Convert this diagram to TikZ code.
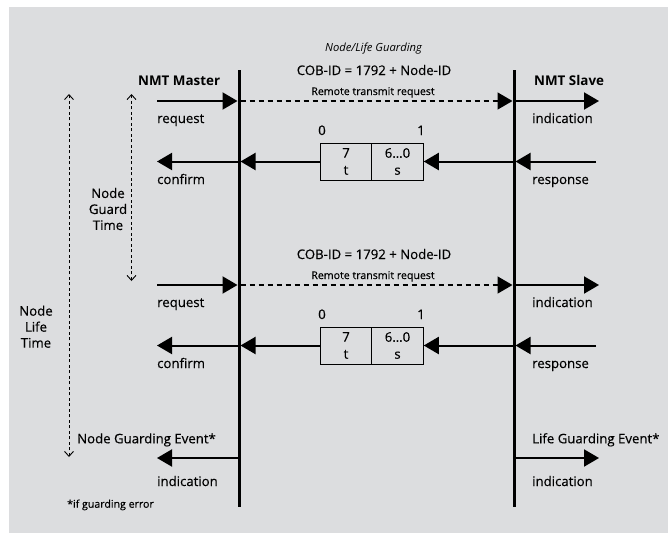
\documentclass[tikz,border=0pt]{standalone}
\usepackage{fontspec}
\setmainfont{Open Sans}[UprightFeatures={FakeBold=0.35}]
\usetikzlibrary{arrows.meta}
\definecolor{panel}{RGB}{220,221,223}
\begin{document}
\begin{tikzpicture}[x=1pt,y=-1pt,
  lifeline/.style={line width=3pt},
  msg/.style={line width=2pt,-{Triangle[length=15pt,width=17pt]}},
  rtr/.style={line width=1.5pt,dash pattern=on 5pt off 4pt,-{Triangle[length=15pt,width=17pt]}},
  span/.style={line width=0.9pt,dash pattern=on 3pt off 2.5pt,
    {Straight Barb[length=5pt,width=9pt]}-{Straight Barb[length=5pt,width=9pt]}},
  lbl/.style={font=\fontsize{13.2}{16}\selectfont,inner sep=0pt,anchor=base west},
  ctr/.style={font=\fontsize{13.2}{16}\selectfont,inner sep=0pt,anchor=base},
  small/.style={font=\fontsize{10.6}{12}\selectfont,inner sep=0pt,anchor=base},
  stack/.style={font=\fontsize{13.2}{16}\selectfont,inner sep=0pt,align=center},
  field/.style={draw,line width=1pt,minimum width=51.5pt,minimum height=37pt,
    inner sep=0pt,align=center,font=\fontsize{13.2}{17}\selectfont}
]
% canvas
\useasboundingbox (0,0) rectangle (668,533);
\fill[panel] (9,7) rectangle (668,533);

% headings
\node[small,font=\fontsize{11.2}{12}\itshape\selectfont] (title) at (373.5,51.7) {Node/Life Guarding};
\node[lbl,font=\fontsize{13.4}{16}\bfseries\selectfont] (master) at (138,85) {NMT Master};
\node[lbl,font=\fontsize{13.4}{16}\bfseries\selectfont] (slave) at (534,85) {NMT Slave};

% lifelines
\coordinate (mtop) at (239,70);
\coordinate (mbot) at (239,507);
\coordinate (stop) at (514,70);
\coordinate (sbot) at (514,507);
\draw[lifeline] (mtop) -- (mbot);
\draw[lifeline] (stop) -- (sbot);

% two guarding cycles
\foreach \k/\d in {1/0,2/184}{
  % remote transmit request
  \node[ctr] (cob\k) at (374,75+\d) {COB-ID = 1792 + Node-ID};
  \node[small] (rtrtext\k) at (373,95+\d) {Remote transmit request};
  \coordinate (reqS\k) at (157,101+\d);
  \coordinate (mIn\k) at (237.5,101+\d);
  \coordinate (mOut\k) at (240.5,101+\d);
  \coordinate (sIn\k) at (512.5,101+\d);
  \coordinate (sOut\k) at (515.5,101+\d);
  \coordinate (indE\k) at (599,101+\d);
  \draw[msg] (reqS\k) -- (mIn\k);
  \draw[rtr] (mOut\k) -- (sIn\k);
  \draw[msg] (sOut\k) -- (indE\k);
  \node[lbl] (req\k) at (157,123+\d) {request};
  \node[lbl] (ind\k) at (532,123+\d) {indication};
  % response frame
  \node[field] (ft\k) at (346,161.5+\d) {7\\t};
  \node[field] (fs\k) at (397.5,161.5+\d) {6…0\\s};
  \node[ctr] (b0\k) at (322,135+\d) {0};
  \node[ctr] (b1\k) at (421,135+\d) {1};
  \coordinate (rspS\k) at (596,161.5+\d);
  \coordinate (sR\k) at (515.5,161.5+\d);
  \coordinate (sL\k) at (512.5,161.5+\d);
  \coordinate (mR\k) at (240.5,161.5+\d);
  \coordinate (mL\k) at (237.5,161.5+\d);
  \coordinate (cfE\k) at (157,161.5+\d);
  \draw[msg] (rspS\k) -- (sR\k);
  \draw[msg] (sL\k) -- (fs\k.east);
  \draw[msg] (ft\k.west) -- (mR\k);
  \draw[msg] (mL\k) -- (cfE\k);
  \node[lbl] (cf\k) at (157,184+\d) {confirm};
  \node[lbl] (rsp\k) at (532,184+\d) {response};
}

% guarding events
\node[lbl] (nge) at (77,443.3) {Node Guarding Event*};
\node[lbl] (lge) at (532,443.3) {Life Guarding Event*};
\coordinate (mL3) at (237.5,458);
\coordinate (ngE) at (157,458);
\coordinate (sR3) at (515.5,458);
\coordinate (lgE) at (599,458);
\draw[msg] (mL3) -- (ngE);
\draw[msg] (sR3) -- (lgE);
\node[lbl] (ind3) at (157,486) {indication};
\node[lbl] (ind4) at (532,486) {indication};
\node[small,anchor=base west] (note) at (67,507.7) {*if guarding error};

% time spans
\coordinate (nltT) at (69,94);
\coordinate (nltB) at (69,457);
\coordinate (ngtT) at (131.5,94);
\coordinate (ngtB) at (131.5,281);
\draw[span] (nltB) -- (nltT);
\draw[span] (ngtB) -- (ngtT);
\node[stack] (nlt) at (36,326.7) {Node\\Life\\Time};
\node[stack] (ngt) at (108,209) {Node\\Guard\\Time};
\end{tikzpicture}
\end{document}
